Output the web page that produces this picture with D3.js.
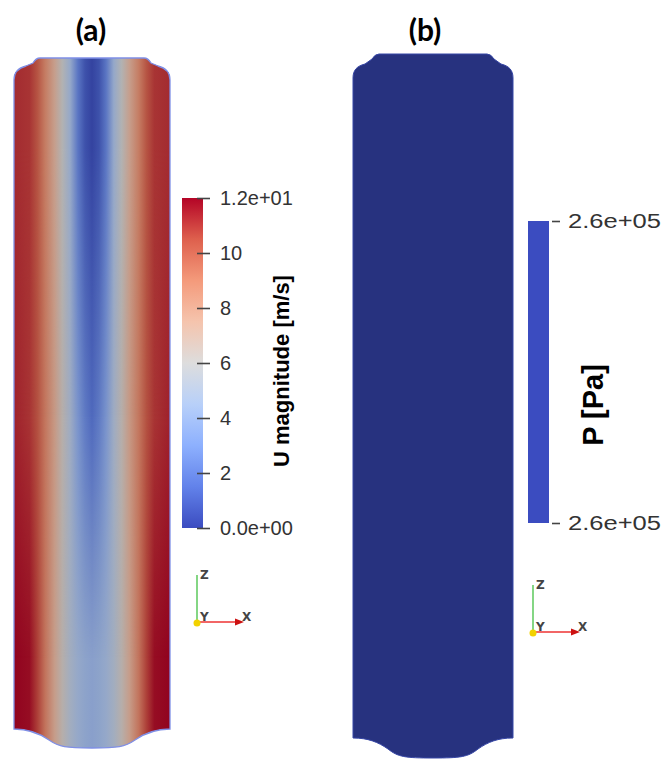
<!DOCTYPE html>
<html>
<head>
<meta charset="utf-8">
<script src="https://cdn.jsdelivr.net/npm/d3@7"></script>
<style>
  body { margin: 0; background: #fff; }
  svg { display: block; }
</style>
</head>
<body>
<div id="chart"></div>
<script>
// ---------------------------------------------------------------
// data
const uDomain = [0, 12];
const uTicks = [0, 2, 4, 6, 8, 10, 12];
const pDomain = [259990, 260010];
const pTicks = [259990, 260010];

// ParaView "Cool to Warm" colour map
const cwPos = [0, 0.125, 0.25, 0.375, 0.5, 0.625, 0.75, 0.875, 1];
const cwCol = ["#3b4cc0", "#6282ea", "#8db0fe", "#b8d0f9", "#dddddd", "#f5c4ad", "#f49a7b", "#de604d", "#b40426"];

// velocity across the pipe (0 = wall, 0.5 = axis), at three heights
const profX = [0, 0.1, 0.15, 0.2, 0.26, 0.31, 0.36, 0.41, 0.455, 0.5];
const profTop = [11.2, 11, 10.3, 9, 7.5, 6, 4.5, 2, 0.7, 0.2];
const profMid = [11.4, 11, 10.4, 9.2, 7.8, 6.3, 5, 3.3, 2.2, 1.5];
const profBot = [12, 11.8, 10.8, 9.3, 7.6, 6.3, 5.2, 4.5, 4.2, 4.0];
const profRows = [0.13, 0.52, 0.87];

const W = 662, H = 759;

const svg = d3.select("#chart").append("svg")
    .attr("width", W)
    .attr("height", H);
const defs = svg.append("defs");

const cool = d3.scaleLinear()
    .domain(cwPos.map(t => uDomain[0] + t * (uDomain[1] - uDomain[0])))
    .range(cwCol)
    .interpolate(d3.interpolateRgb)
    .clamp(true);
const shaded = v => d3.rgb(cool(v)).darker(0.6).formatHex();

// pipe outline
function pipePath(x0, x1, yTop, yBody, yEnd, yBot) {
  const p = d3.path();
  const cx = (x0 + x1) / 2;
  p.moveTo(x0, yBody + 6);
  p.bezierCurveTo(x0, yBody - 2, x0 + 4, yBody - 6, x0 + 12, yBody - 8);
  p.lineTo(x0 + 19, yTop + 5);
  p.quadraticCurveTo(x0 + 22, yTop, x0 + 26, yTop);
  p.lineTo(x1 - 26, yTop);
  p.quadraticCurveTo(x1 - 22, yTop, x1 - 19, yTop + 5);
  p.lineTo(x1 - 12, yBody - 8);
  p.bezierCurveTo(x1 - 4, yBody - 6, x1, yBody - 2, x1, yBody + 6);
  p.lineTo(x1, yEnd);
  p.bezierCurveTo(x1 - 15, yEnd, x1 - 25, yEnd + 4, x1 - 35, yEnd + 11);
  p.bezierCurveTo(x1 - 45, yBot - 1, x1 - 52, yBot, cx, yBot);
  p.bezierCurveTo(x0 + 52, yBot, x0 + 45, yBot - 1, x0 + 35, yEnd + 11);
  p.bezierCurveTo(x0 + 25, yEnd + 4, x0 + 15, yEnd, x0, yEnd);
  p.closePath();
  return p.toString();
}

// ---------------------------------------------------------------
// (a) velocity field
const A = { x0: 14, x1: 170, yTop: 58, yBody: 74, yEnd: 729, yBot: 748 };
const yA = d3.scaleLinear().domain([0, 1]).range([A.yTop, A.yBot]);
const pathA = pipePath(A.x0, A.x1, A.yTop, A.yBody, A.yEnd, A.yBot);

defs.append("clipPath").attr("id", "clipA").append("path").attr("d", pathA);

const profiles = [profTop, profMid, profBot];
profiles.forEach((prof, k) => {
  const g = defs.append("linearGradient").attr("id", "prof" + k)
      .attr("x1", 0).attr("x2", 1).attr("y1", 0).attr("y2", 0);
  const stops = profX.map((x, i) => ({ o: x, v: prof[i] }));
  for (let i = profX.length - 2; i >= 0; i--) stops.push({ o: 1 - profX[i], v: prof[i] });
  g.selectAll("stop").data(stops).enter().append("stop")
      .attr("offset", d => d.o)
      .attr("stop-color", d => shaded(d.v));
});

// vertical blend masks between neighbouring profiles
profRows.forEach((r, k) => {
  if (k === profRows.length - 1) return;
  const toOff = y => (yA(y) - A.yTop) / (A.yBot - A.yTop);
  const mg = defs.append("linearGradient").attr("id", "mg" + k)
      .attr("x1", 0).attr("x2", 0).attr("y1", 0).attr("y2", 1);
  mg.append("stop").attr("offset", toOff(r)).attr("stop-color", "#fff");
  mg.append("stop").attr("offset", toOff(profRows[k + 1])).attr("stop-color", "#000");
  defs.append("mask").attr("id", "mask" + k)
    .append("rect")
      .attr("x", A.x0).attr("y", A.yTop)
      .attr("width", A.x1 - A.x0).attr("height", A.yBot - A.yTop)
      .attr("fill", `url(#mg${k})`);
});

const fieldA = svg.append("g").attr("clip-path", "url(#clipA)");
for (let k = profRows.length - 1; k >= 0; k--) {
  fieldA.append("rect")
      .attr("x", A.x0).attr("y", A.yTop)
      .attr("width", A.x1 - A.x0).attr("height", A.yBot - A.yTop)
      .attr("fill", `url(#prof${k})`)
      .attr("mask", k === profRows.length - 1 ? null : `url(#mask${k})`);
}
svg.append("path")
    .attr("d", pathA)
    .attr("fill", "none")
    .attr("stroke", "#7f8fe6")
    .attr("stroke-width", 1.3);

// (a) colour bar
const uScale = d3.scaleLinear().domain(uDomain).range([528, 198]);
const barGrad = defs.append("linearGradient").attr("id", "barA")
    .attr("x1", 0).attr("x2", 0).attr("y1", 1).attr("y2", 0);
barGrad.selectAll("stop").data(cwPos).enter().append("stop")
    .attr("offset", d => d)
    .attr("stop-color", (d, i) => cwCol[i]);
svg.append("rect")
    .attr("x", 182).attr("y", uScale(uDomain[1]))
    .attr("width", 21).attr("height", uScale(uDomain[0]) - uScale(uDomain[1]))
    .attr("fill", "url(#barA)");

function fmtExp(v) {
  return v.toExponential(1).replace(/e([+-])(\d)$/, "e$10$2");
}

const axA = svg.append("g")
    .attr("transform", "translate(197,0)")
    .call(d3.axisRight(uScale)
      .tickValues(uTicks)
      .tickSize(13)
      .tickPadding(10)
      .tickFormat(d => (d === uDomain[0] || d === uDomain[1]) ? fmtExp(d) : d));
axA.select(".domain").remove();
axA.selectAll(".tick line").attr("stroke", "#444").attr("stroke-width", 1.6);
axA.selectAll(".tick text")
    .attr("fill", "#333")
    .style("font-family", "'Liberation Sans', Arial, sans-serif")
    .style("font-size", "20px");

svg.append("text")
    .attr("transform", "translate(281,371) rotate(-90)")
    .attr("text-anchor", "middle")
    .attr("dominant-baseline", "central")
    .style("font-family", "'Liberation Sans', Arial, sans-serif")
    .style("font-weight", "bold")
    .style("font-size", "22px")
    .attr("fill", "#000")
    .text("U magnitude [m/s]");

// ---------------------------------------------------------------
// (b) pressure field (uniform)
const B = { x0: 353, x1: 513, yTop: 54, yBody: 72, yEnd: 738, yBot: 758 };
const pathB = pipePath(B.x0, B.x1, B.yTop, B.yBody, B.yEnd, B.yBot);
svg.append("path")
    .attr("d", pathB)
    .attr("fill", d3.rgb(cool(uDomain[0])).darker(1.15).formatHex())
    .attr("stroke", "#3646a6")
    .attr("stroke-width", 1);

const pScale = d3.scaleLinear().domain(pDomain).range([523, 221]);
svg.append("rect")
    .attr("x", 528).attr("y", pScale(pDomain[1]))
    .attr("width", 21).attr("height", pScale(pDomain[0]) - pScale(pDomain[1]))
    .attr("fill", cool(uDomain[0]));

const axB = svg.append("g")
    .attr("transform", "translate(552,0)")
    .call(d3.axisRight(pScale)
      .tickValues(pTicks)
      .tickSize(8)
      .tickPadding(8)
      .tickFormat(d => fmtExp(Math.round(d / 1e4) * 1e4)));
axB.select(".domain").remove();
axB.selectAll(".tick line").attr("stroke", "#444").attr("stroke-width", 1.6);
axB.selectAll(".tick text")
    .attr("fill", "#333")
    .attr("textLength", 93)
    .attr("lengthAdjust", "spacingAndGlyphs")
    .style("font-family", "'Liberation Sans', Arial, sans-serif")
    .style("font-size", "20px");

svg.append("text")
    .attr("transform", "translate(593,405) rotate(-90)")
    .attr("text-anchor", "middle")
    .attr("dominant-baseline", "central")
    .style("font-family", "'Liberation Sans', Arial, sans-serif")
    .style("font-weight", "bold")
    .style("font-size", "29px")
    .attr("fill", "#000")
    .text("P [Pa]");

// ---------------------------------------------------------------
// panel titles
[["(a)", 91], ["(b)", 425]].forEach(([t, x]) => {
  svg.append("text")
      .attr("x", x).attr("y", 41)
      .attr("text-anchor", "middle")
      .style("font-family", "Lato, 'Open Sans', sans-serif")
      .style("font-weight", "bold")
      .style("font-size", "30px")
      .attr("fill", "#000")
      .text(t);
});

// orientation triads
function triad(ox, oy, len) {
  const g = svg.append("g");
  g.append("line").attr("x1", ox).attr("y1", oy).attr("x2", ox).attr("y2", oy - len)
      .attr("stroke", "#66cc66").attr("stroke-width", 1.6);
  g.append("line").attr("x1", ox).attr("y1", oy).attr("x2", ox + len - 6).attr("y2", oy)
      .attr("stroke", "#ee3333").attr("stroke-width", 1.6);
  g.append("path")
      .attr("d", `M${ox + len},${oy} L${ox + len - 9},${oy - 3.5} L${ox + len - 9},${oy + 3.5} Z`)
      .attr("fill", "#cc1111");
  g.append("circle").attr("cx", ox).attr("cy", oy + 1).attr("r", 3.5).attr("fill", "#f2d200");
  const lab = (t, x, y) => g.append("text").attr("x", x).attr("y", y)
      .style("font-family", "'DejaVu Sans', sans-serif")
      .style("font-size", "12px")
      .style("font-weight", "bold")
      .attr("fill", "#444")
      .text(t);
  lab("Z", ox + 3, oy - len + 4);
  lab("Y", ox + 3, oy - 1);
  lab("X", ox + len - 2, oy - 1);
}
triad(197, 622, 47);
triad(533, 632, 47);
</script>
</body>
</html>
